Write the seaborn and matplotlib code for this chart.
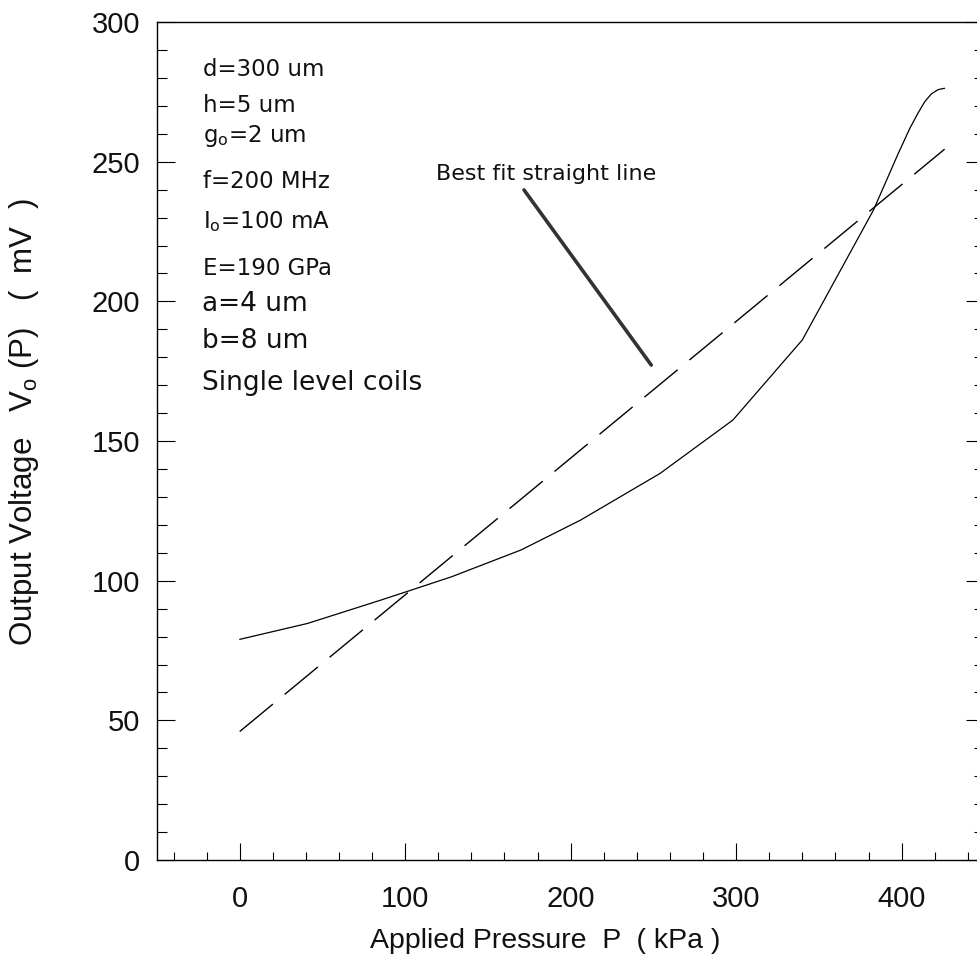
import numpy as np
import pandas as pd
import seaborn as sns
import matplotlib
matplotlib.use("Agg")
import matplotlib.pyplot as plt
from matplotlib.ticker import MultipleLocator

# Output voltage vs applied pressure
pressure = [0, 41, 85, 104, 128, 170, 206, 254, 298, 340, 383, 398, 405, 410, 414, 418, 422, 426]
voltage = [79, 84.7, 93, 96.7, 101.4, 111, 121.7, 138.4, 157.5, 186.2, 232.7, 253, 262, 267.5,
           271.5, 274.3, 275.8, 276.3]

# Best fit straight line end points
fit_pressure = [0, 426]
fit_voltage = [46, 254.5]

# Design parameters shown in the corner
params_small = ["d=300 um", "h=5 um", r"g$\mathregular{_o}$=2 um", "f=200 MHz",
                r"I$\mathregular{_o}$=100 mA", "E=190 GPa"]
params_small_y = [280.7, 267.9, 257.2, 240.5, 226.2, 209.5]
params_large = ["a=4 um", "b=8 um", "Single level coils"]
params_large_y = [196.6, 183.2, 168.3]

curve = pd.DataFrame({"P": pressure, "V": voltage})
fit = pd.DataFrame({"P": fit_pressure, "V": fit_voltage})

sns.set_style("ticks")
plt.rcParams["font.family"] = ["Liberation Sans", "DejaVu Sans"]
plt.rcParams["mathtext.fontset"] = "dejavusans"

fig = plt.figure(figsize=(9.78, 9.72), dpi=100)
ax = fig.add_axes([0.1605, 0.1152, 0.846, 0.8621])

sns.lineplot(data=curve, x="P", y="V", ax=ax, color="black", lw=0.9)
sns.lineplot(data=fit, x="P", y="V", ax=ax, color="black", lw=1.0,
             linestyle=(0, (31, 11)))

ax.set_xlim(-50, 450)
ax.set_ylim(0, 300)
ax.xaxis.set_major_locator(MultipleLocator(100))
ax.xaxis.set_minor_locator(MultipleLocator(20))
ax.yaxis.set_major_locator(MultipleLocator(50))
ax.yaxis.set_minor_locator(MultipleLocator(10))

ax.tick_params(axis="both", which="both", direction="in", color="black",
               width=0.8, labelsize=21, labelcolor="#111111")
ax.tick_params(axis="y", which="major", length=13, pad=12, right=True)
ax.tick_params(axis="y", which="minor", length=7, right=True)
ax.tick_params(axis="x", which="major", length=12, pad=18)
ax.tick_params(axis="x", which="minor", length=6)

for s in ax.spines.values():
    s.set_color("black")
    s.set_linewidth(1.0)

ax.set_xlabel("Applied Pressure  P  ( kPa )", fontsize=20.5, color="#111111")
ax.set_ylabel(r"Output Voltage   V$\mathregular{_o}$ (P)   (  mV  )", fontsize=22.5,
              color="#111111")
ax.xaxis.set_label_coords(0.469, -0.081)
ax.yaxis.set_label_coords(-0.14, 0.522)

for txt, yy in zip(params_small, params_small_y):
    ax.text(-22, yy, txt, fontsize=16.5, family="DejaVu Sans", color="#111111",
            ha="left", va="baseline")
for txt, yy in zip(params_large, params_large_y):
    ax.text(-23, yy, txt, fontsize=19, family="DejaVu Sans", color="#111111",
            ha="left", va="baseline")

ax.text(185, 243.5, "Best fit straight line", fontsize=16, family="DejaVu Sans",
        color="#111111", ha="center", va="baseline")
ax.annotate("", xy=(248.7, 177.2), xytext=(171.8, 239.9),
            arrowprops=dict(arrowstyle="-", lw=2.6, color="#333333",
                            shrinkA=0, shrinkB=0))

fig.savefig("out.png", dpi=100)
